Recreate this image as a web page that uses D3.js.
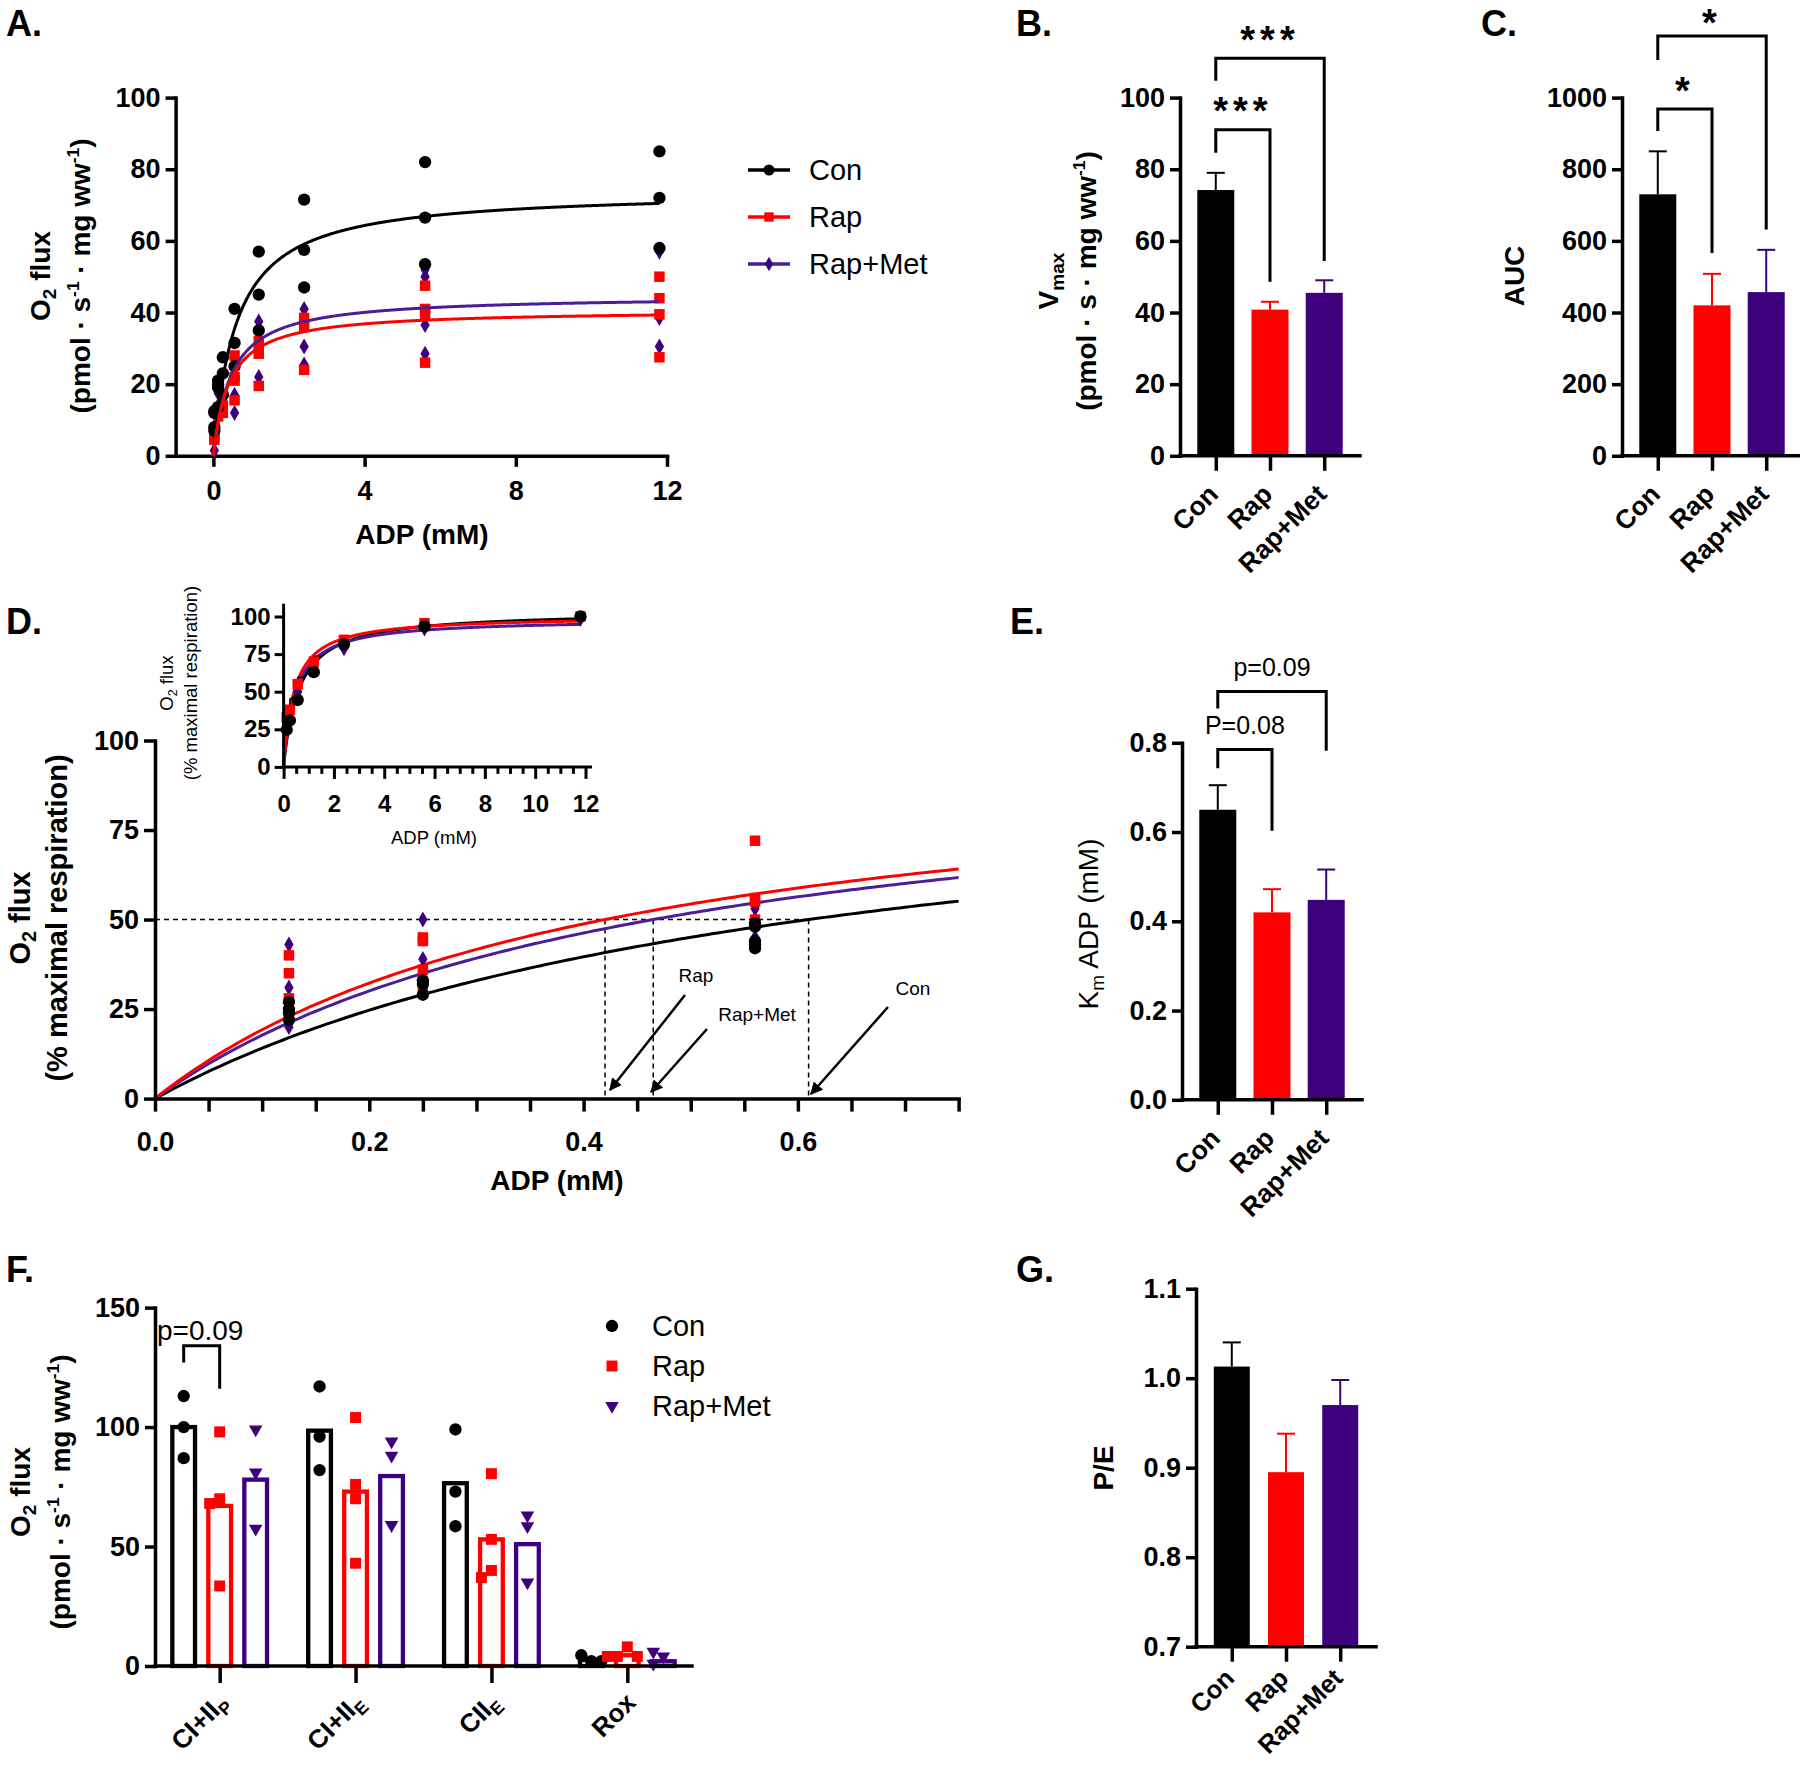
<!DOCTYPE html>
<html><head><meta charset="utf-8">
<script src="https://cdn.jsdelivr.net/npm/d3@7"></script>
<style>body{margin:0;background:#fff} svg{display:block}</style>
</head><body><svg id="c" width="1800" height="1766"></svg>
<script>
// ---------------- DATA ----------------
const groups = ["Con", "Rap", "Rap+Met"];
// Panel A: ADP titration, individual O2 flux values
const adpA = [0.025, 0.125, 0.25, 0.56, 1.2, 2.4, 5.6, 11.8];
const conA = [[12,12.5,7,8],[20,19,13.5,21],[27.5,23,17],[41,31.5,25],[57,45,35],[71.5,57.5,47],[82,66.5,53.5],[85,72,58]];
const rapA = [[5,4.5],[11,13],[12,14],[28,22,15.5,21],[32,30,28.5,19.5],[38.5,36,24],[47.5,41,39.5,26],[50,44,39.5,27.5]];
const rmA  = [[1.5,13],[17.5,14],[17,15],[26,17,12],[37.5,33,22],[41,30.5,25.5],[52,50,36.5,28.5],[57,38.5,30.5]];
const fitVmaxA = [74.1, 40.7, 44.7];
const fitKm = [0.61, 0.42, 0.465];
// Panel B
const vmaxMean = [74.2, 40.8, 45.5];
const vmaxErr = [4.8, 2.2, 3.5];
// Panel C
const aucMean = [730, 420, 457];
const aucErr = [120, 88, 118];
// Panel D main (normalized)
const adpD = [0.125, 0.25, 0.56];
const conD = [[22,24,25,27],[29,32,33],[42,43,44,48,49]];
const rapD = [[23,28,35,40],[30,36,44,45],[50,55,56,72]];
const rmD  = [[20,22,31,43],[35,39,50],[45,50,53]];
// Panel D inset (means)
const adpIn = [0.125, 0.25, 0.56, 1.2, 2.4, 5.6, 11.8];
const conIn = [24.7, 31, 44.5, 63, 81.5, 93.5, 100];
const rapIn = [33, 38, 55, 70, 84.5, 95.5, 100];
const rmIn  = [30, 36, 50, 66, 79, 92, 98.5];
const rapInErr = [0, 7.5, 4.6, 3.5, 0, 0, 0];
const fitVmaxIn = [103.6, 100.4, 98.5];
// Panel E
const kmMean = [0.65, 0.42, 0.448];
const kmErr = [0.055, 0.052, 0.068];
// Panel F
const fCats = ["CI+II", "CI+II", "CII", "Rox"];
const fSubs = ["P", "E", "E", ""];
const fConMean = [100, 98.5, 76.5, 2.5];
const fRapMean = [67, 73, 53, 4.5];
const fRmMean  = [78, 79.5, 51, 2];
const fConPts = [[113,100,87],[117,96,82],[99,73,58.5],[2,4.5,2]];
const fRapPts = [[98,70,68,33.5],[104,76,70,43],[80.5,53,40,37],[8,4,4,4]];
const fRmPts  = [[99,81,57.5],[94,88,59],[63,58.5,35],[4,1,6]];
// Panel G
const peMean = [1.013, 0.895, 0.97];
const peErr = [0.027, 0.043, 0.028];

// ---------------- STYLE ----------------
const FONT = '"Liberation Sans", Arial, Helvetica, sans-serif';
const NARROW = '"Liberation Sans Narrow", "Arial Narrow", "Liberation Sans", Arial, sans-serif';
const barCol = ["#000000", "#ff0000", "#3f007d"];
const lineCol = ["#000000", "#ff0000", "#4a1e97"];
const AX = 3.5;

const svg = d3.select("#c");
svg.append("rect").attr("width", 1800).attr("height", 1766).attr("fill", "#fff");
const defs = svg.append("defs");
defs.append("marker").attr("id", "arr").attr("viewBox", "0 0 10 10").attr("refX", 9).attr("refY", 5)
  .attr("markerWidth", 5).attr("markerHeight", 5).attr("orient", "auto-start-reverse").attr("markerUnits", "strokeWidth")
  .append("path").attr("d", "M0,0 L10,5 L0,10 z").attr("fill", "#000");

function styleAxis(g, fs, sw, weight) {
  g.attr("font-family", FONT);
  g.select(".domain").attr("stroke", "#000").attr("stroke-width", sw).attr("stroke-linecap", "square");
  g.selectAll(".tick line").attr("stroke", "#000").attr("stroke-width", sw);
  g.selectAll(".tick text").attr("fill", "#000").attr("font-size", fs).attr("font-weight", weight || "bold").attr("font-family", FONT);
}
function rich(t, parts, fs) {
  parts.forEach(p => {
    const s = t.append("tspan").text(p[0]);
    if (p[1] === "sub") s.attr("font-size", fs * 0.68).attr("baseline-shift", -fs * 0.22);
    if (p[1] === "sup") s.attr("font-size", fs * 0.62).attr("baseline-shift", fs * 0.38);
  });
  return t;
}
function vTitle(x, y, parts, fs, weight) {
  const t = svg.append("text").attr("transform", `translate(${x},${y}) rotate(-90)`)
    .attr("text-anchor", "middle").attr("font-family", FONT).attr("font-size", fs).attr("font-weight", weight || "bold");
  return rich(t, parts, fs);
}
function label(x, y, s) {
  svg.append("text").attr("x", x).attr("y", y).attr("font-family", FONT).attr("font-size", 36).attr("font-weight", "bold").text(s);
}
function sym(type, size) { return d3.symbol().type(type).size(size)(); }
const shapes = [d3.symbolCircle, d3.symbolSquare, d3.symbolDiamond];
const shapeSize = [120, 110, 75];

// ---------------- PANEL A ----------------
label(6, 36, "A.");
{
  const x = d3.scaleLinear().domain([-1, 12]).range([175.6, 667]);
  const y = d3.scaleLinear().domain([0, 100]).range([455.8, 97.6]);
  const g = svg.append("g");
  const ax = g.append("g").attr("transform", `translate(0,${y(0)})`)
    .call(d3.axisBottom(x).tickValues([0, 4, 8, 12]).tickSize(11).tickSizeOuter(0).tickPadding(14));
  styleAxis(ax, 27, AX);
  const ay = g.append("g").attr("transform", `translate(${x(-1)},0)`)
    .call(d3.axisLeft(y).tickValues(d3.range(0, 101, 20)).tickSize(10).tickSizeOuter(0).tickPadding(5));
  styleAxis(ay, 27, AX);
  const sets = [rmA, rapA, conA];
  const idx = [2, 1, 0];
  sets.forEach((set, k) => {
    const i = idx[k];
    set.forEach((vals, j) => vals.forEach(v => {
      g.append("path").attr("d", sym(shapes[i], shapeSize[i])).attr("fill", barCol[i])
        .attr("transform", `translate(${x(adpA[j])},${y(v)})`);
    }));
  });
  const xs = d3.range(0, 11.81, 0.02);
  [0, 2, 1].forEach(i => {
    g.append("path").datum(xs).attr("fill", "none").attr("stroke", lineCol[i]).attr("stroke-width", 3)
      .attr("d", d3.line().x(d => x(d)).y(d => y(fitVmaxA[i] * d / (fitKm[i] + d))));
  });
  svg.append("text").attr("x", 422).attr("y", 544).attr("text-anchor", "middle").attr("font-family", FONT)
    .attr("font-size", 28).attr("font-weight", "bold").text("ADP (mM)");
  vTitle(50, 276, [["O"], ["2", "sub"], [" flux"]], 28);
  vTitle(90, 276, [["(pmol · s"], ["-1", "sup"], [" · mg ww"], ["-1", "sup"], [")"]], 28);
  // legend
  groups.forEach((gname, i) => {
    const ly = 170 + i * 47;
    g.append("line").attr("x1", 748).attr("x2", 790).attr("y1", ly).attr("y2", ly).attr("stroke", lineCol[i]).attr("stroke-width", 3.5);
    g.append("path").attr("d", sym(shapes[i], shapeSize[i] * 0.8)).attr("fill", barCol[i]).attr("transform", `translate(769,${ly})`);
    g.append("text").attr("x", 809).attr("y", ly + 10).attr("font-family", FONT).attr("font-size", 29).text(gname);
  });
}

// ---------------- BAR PANELS ----------------
function barPanel(o) {
  const y = d3.scaleLinear().domain(o.domain).range([o.y0, o.y1]);
  const x = d3.scalePoint().domain(groups).range([o.ax, o.ax + 180]).padding(0.66);
  const g = svg.append("g");
  groups.forEach((gn, i) => {
    const cx = x(gn);
    const top = y(o.mean[i]);
    const et = y(o.mean[i] + o.err[i]);
    g.append("line").attr("x1", cx).attr("x2", cx).attr("y1", top).attr("y2", et).attr("stroke", barCol[i]).attr("stroke-width", 2);
    g.append("line").attr("x1", cx - 9).attr("x2", cx + 9).attr("y1", et).attr("y2", et).attr("stroke", barCol[i]).attr("stroke-width", 2);
    g.append("rect").attr("x", cx - o.bw / 2).attr("width", o.bw).attr("y", top).attr("height", y(o.domain[0]) - top).attr("fill", barCol[i]);
  });
  const axb = g.append("g").attr("transform", `translate(0,${o.y0})`)
    .call(d3.axisBottom(x).tickSize(15).tickSizeOuter(0).tickFormat(""));
  styleAxis(axb, 27, AX);
  axb.select(".domain").attr("d", `M${o.ax},0H${o.ax + 180}`);
  const ayg = g.append("g").attr("transform", `translate(${o.ax},0)`)
    .call(d3.axisLeft(y).tickValues(o.ticks).tickFormat(o.fmt).tickSize(10).tickSizeOuter(0).tickPadding(5));
  styleAxis(ayg, 27, AX);
  const lfs = o.lfs || 26.5, ldy = o.ldy || 40;
  groups.forEach(gn => {
    const cx = x(gn);
    g.append("text").attr("transform", `translate(${cx + 4},${o.y0 + ldy}) rotate(-45)`)
      .attr("text-anchor", "end").attr("font-family", FONT).attr("font-size", lfs).attr("font-weight", "bold").text(gn);
  });
  (o.brackets || []).forEach(b => {
    const xa = x(groups[b.a]), xb = x(groups[b.b]);
    g.append("path").attr("d", `M${xa},${y(b.l)}V${y(b.h)}H${xb}V${y(b.r)}`).attr("fill", "none").attr("stroke", "#000").attr("stroke-width", 3);
    const t = g.append("text").attr("x", (xa + xb) / 2).attr("text-anchor", "middle").attr("font-family", FONT).text(b.text);
    if (b.star) t.attr("font-size", 38).attr("font-weight", "bold").attr("letter-spacing", 5).attr("y", Math.max(y(b.t) + 19, 36));
    else t.attr("font-size", 25).attr("y", y(b.t) + 9);
  });
  return { x, y };
}

label(1016, 36, "B.");
barPanel({ ax: 1180, y0: 455.8, y1: 97.6, domain: [0, 100], ticks: d3.range(0, 101, 20), fmt: d3.format("d"),
  mean: vmaxMean, err: vmaxErr, bw: 37,
  brackets: [{ a: 0, b: 1, h: 91, l: 84.6, r: 48.6, text: "***", t: 97.8, star: true },
             { a: 0, b: 2, h: 111, l: 104.7, r: 54.4, text: "***", t: 117.8, star: true }] });
vTitle(1058, 281, [["V"], ["max", "sub"]], 28);
vTitle(1096, 281, [["(pmol · s · mg ww"], ["-1", "sup"], [")"]], 28);

label(1481, 36, "C.");
barPanel({ ax: 1622, y0: 455.8, y1: 97.6, domain: [0, 1000], ticks: d3.range(0, 1001, 200), fmt: d3.format("d"),
  mean: aucMean, err: aucErr, bw: 37,
  brackets: [{ a: 0, b: 1, h: 968, l: 907, r: 566, text: "*", t: 1035, star: true },
             { a: 0, b: 2, h: 1172, l: 1105, r: 632, text: "*", t: 1238, star: true }] });
vTitle(1524, 276, [["AUC"]], 28);

label(1010, 634, "E.");
barPanel({ ax: 1182, y0: 1099.8, y1: 742.8, domain: [0, 0.8], ticks: [0, 0.2, 0.4, 0.6, 0.8], fmt: d3.format(".1f"),
  mean: kmMean, err: kmErr, bw: 37,
  brackets: [{ a: 0, b: 1, h: 0.785, l: 0.743, r: 0.603, text: "P=0.08", t: 0.84 },
             { a: 0, b: 2, h: 0.915, l: 0.877, r: 0.782, text: "p=0.09", t: 0.97 }] });
vTitle(1098, 924, [["K"], ["m", "sub"], [" ADP (mM)"]], 28, "normal");

label(1016, 1282, "G.");
barPanel({ ax: 1196, y0: 1646.7, y1: 1288.7, domain: [0.7, 1.1], ticks: [0.7, 0.8, 0.9, 1.0, 1.1], fmt: d3.format(".1f"),
  mean: peMean, err: peErr, bw: 36, lfs: 25.5, ldy: 33 });
vTitle(1113, 1468, [["P/E"]], 28);

// ---------------- PANEL D ----------------
label(6, 634, "D.");
{
  const x = d3.scaleLinear().domain([0, 0.75]).range([155, 958.6]);
  const y = d3.scaleLinear().domain([0, 100]).range([1098.6, 740.5]);
  const g = svg.append("g");
  // dashed guides
  g.append("line").attr("x1", x(0)).attr("x2", x(fitKm[0])).attr("y1", y(50)).attr("y2", y(50))
    .attr("stroke", "#000").attr("stroke-width", 1.5).attr("stroke-dasharray", "5,4");
  fitKm.forEach(k => g.append("line").attr("x1", x(k)).attr("x2", x(k)).attr("y1", y(50)).attr("y2", y(0))
    .attr("stroke", "#000").attr("stroke-width", 1.5).attr("stroke-dasharray", "5,4"));
  const xs = d3.range(0, 0.7501, 0.005);
  [0, 2, 1].forEach(i => g.append("path").datum(xs).attr("fill", "none").attr("stroke", lineCol[i]).attr("stroke-width", 3)
    .attr("d", d3.line().x(d => x(d)).y(d => y(100 * d / (fitKm[i] + d)))));
  [[rmD, 2], [rapD, 1], [conD, 0]].forEach(([set, i]) => set.forEach((vals, j) => vals.forEach(v =>
    g.append("path").attr("d", sym(shapes[i], shapeSize[i])).attr("fill", barCol[i]).attr("transform", `translate(${x(adpD[j])},${y(v)})`))));
  const ax = g.append("g").attr("transform", `translate(0,${y(0)})`)
    .call(d3.axisBottom(x).tickValues(d3.range(0, 0.7501, 0.05)).tickSize(13).tickSizeOuter(0).tickPadding(20)
      .tickFormat(d => (Math.abs(d * 10 - Math.round(d * 10)) < 1e-6 && Math.round(d * 10) % 2 === 0) ? d3.format(".1f")(d) : ""));
  styleAxis(ax, 27, AX);
  const ay = g.append("g").attr("transform", `translate(${x(0)},0)`)
    .call(d3.axisLeft(y).tickValues([0, 25, 50, 75, 100]).tickSize(11).tickSizeOuter(0).tickPadding(5));
  styleAxis(ay, 27, AX);
  svg.append("text").attr("x", 557).attr("y", 1190).attr("text-anchor", "middle").attr("font-family", FONT)
    .attr("font-size", 28).attr("font-weight", "bold").text("ADP (mM)");
  vTitle(30, 918, [["O"], ["2", "sub"], [" flux"]], 29);
  vTitle(67, 918, [["(% maximal respiration)"]], 29);
  // arrows + labels
  const arrows = [[685, 995, 610, 1090], [707, 1029, 651, 1092], [888, 1007, 811, 1094]];
  arrows.forEach(a => g.append("line").attr("x1", a[0]).attr("y1", a[1]).attr("x2", a[2]).attr("y2", a[3])
    .attr("stroke", "#000").attr("stroke-width", 2.5).attr("marker-end", "url(#arr)"));
  [["Rap", 696, 982], ["Rap+Met", 757, 1021], ["Con", 913, 995]].forEach(t =>
    g.append("text").attr("x", t[1]).attr("y", t[2]).attr("text-anchor", "middle").attr("font-family", NARROW)
      .attr("font-size", 19).text(t[0]));

  // inset
  const xi = d3.scaleLinear().domain([0, 12]).range([283.6, 585.5]);
  const yi = d3.scaleLinear().domain([0, 100]).range([766.9, 616.5]);
  const gi = svg.append("g");
  const xsi = d3.range(0, 11.81, 0.02);
  [0, 2, 1].forEach(i => gi.append("path").datum(xsi).attr("fill", "none").attr("stroke", lineCol[i]).attr("stroke-width", 3)
    .attr("d", d3.line().x(d => xi(d)).y(d => yi(fitVmaxIn[i] * d / (fitKm[i] + d)))));
  adpIn.forEach((a, j) => {
    if (rapInErr[j] > 0) {
      const t = yi(rapIn[j] + rapInErr[j]);
      gi.append("line").attr("x1", xi(a)).attr("x2", xi(a)).attr("y1", yi(rapIn[j])).attr("y2", t).attr("stroke", "#000").attr("stroke-width", 1.5);
      gi.append("line").attr("x1", xi(a)).attr("x2", xi(a) + 8).attr("y1", t).attr("y2", t).attr("stroke", "#000").attr("stroke-width", 1.5);
    }
  });
  [[rmIn, 2], [rapIn, 1], [conIn, 0]].forEach(([set, i]) => set.forEach((v, j) =>
    gi.append("path").attr("d", sym(shapes[i], shapeSize[i])).attr("fill", barCol[i]).attr("transform", `translate(${xi(adpIn[j])},${yi(v)})`)));
  const axi = gi.append("g").attr("transform", `translate(0,${yi(0)})`)
    .call(d3.axisBottom(xi).tickValues(d3.range(0, 12.01, 0.5)).tickSize(7).tickSizeOuter(0).tickPadding(21)
      .tickFormat(d => d % 2 === 0 ? d : ""));
  styleAxis(axi, 24, 3);
  axi.selectAll(".tick line").attr("y2", d => d % 2 === 0 ? 12 : 7);
  axi.select(".domain").attr("d", "M" + xi(0) + ",0H" + (xi(12) + 5));
  const ayi = gi.append("g").attr("transform", `translate(${xi(0)},0)`)
    .call(d3.axisLeft(yi).tickValues([0, 25, 50, 75, 100]).tickSize(9).tickSizeOuter(0).tickPadding(4));
  styleAxis(ayi, 24, 3);
  ayi.select(".domain").attr("d", "M0," + yi(0) + "V" + yi(107.5));
  svg.append("text").attr("x", 434).attr("y", 844).attr("text-anchor", "middle").attr("font-family", FONT)
    .attr("font-size", 18.5).text("ADP (mM)");
  vTitle(173, 683, [["O"], ["2", "sub"], [" flux"]], 18.5, "normal");
  vTitle(197, 683, [["(% maximal respiration)"]], 18.5, "normal");
}

// ---------------- PANEL F ----------------
label(6, 1282, "F.");
{
  const y = d3.scaleLinear().domain([0, 150]).range([1666, 1307.6]);
  const cats = fCats.map((c, i) => i);
  const x = d3.scalePoint().domain(cats).range([155, 692]).padding(0.476);
  const inner = [-36, 0, 36];
  const means = [fConMean, fRapMean, fRmMean];
  const pts = [fConPts, fRapPts, fRmPts];
  const fShapes = [d3.symbolCircle, d3.symbolSquare, d3.symbolTriangle];
  const fSize = [120, 120, 80];
  const g = svg.append("g");
  const bw = 27, sw = 4.3;
  cats.forEach(ci => {
    [0, 1, 2].forEach(gi => {
      const cx = x(ci) + inner[gi];
      const top = y(means[gi][ci]);
      g.append("rect").attr("x", cx - bw / 2 + sw / 2).attr("width", bw - sw).attr("y", top).attr("height", y(0) - top)
        .attr("fill", "none").attr("stroke", barCol[gi]).attr("stroke-width", sw);
    });
  });
  cats.forEach(ci => {
    [0, 1, 2].forEach(gi => {
      const cx = x(ci) + inner[gi];
      const placed = [];
      pts[gi][ci].forEach(v => {
        const py = y(v);
        const near = placed.filter(p => Math.abs(p - py) < 10).length;
        const off = near ? (near % 2 ? -1 : 1) * Math.ceil(near / 2) * 10 : 0;
        placed.push(py);
        const rot = gi === 2 ? " rotate(180)" : "";
        g.append("path").attr("d", sym(fShapes[gi], fSize[gi])).attr("fill", barCol[gi])
          .attr("transform", `translate(${cx + off},${py})${rot}`);
      });
    });
  });
  const axb = g.append("g").attr("transform", `translate(0,${y(0)})`)
    .call(d3.axisBottom(x).tickSize(17).tickSizeOuter(0).tickFormat(""));
  styleAxis(axb, 27, AX);
  axb.select(".domain").attr("d", "M155,0H692");
  const ayg = g.append("g").attr("transform", "translate(155,0)")
    .call(d3.axisLeft(y).tickValues([0, 50, 100, 150]).tickSize(10).tickSizeOuter(0).tickPadding(5));
  styleAxis(ayg, 27, AX);
  cats.forEach(ci => {
    const t = g.append("text").attr("transform", `translate(${x(ci) + 10},${y(0) + 38}) rotate(-45)`)
      .attr("text-anchor", "end").attr("font-family", FONT).attr("font-size", 26).attr("font-weight", "bold");
    rich(t, fSubs[ci] ? [[fCats[ci]], [fSubs[ci], "sub"]] : [[fCats[ci]]], 26);
  });
  // bracket
  const xa = x(0) + inner[0], xb = x(0) + inner[1];
  g.append("path").attr("d", `M${xa},${y(127)}V${y(134)}H${xb}V${y(116)}`).attr("fill", "none").attr("stroke", "#000").attr("stroke-width", 3);
  g.append("text").attr("x", 157).attr("y", y(140.5) + 10).attr("font-family", FONT).attr("font-size", 28).text("p=0.09");
  // legend
  groups.forEach((gn, i) => {
    const ly = 1326 + i * 40;
    const rot = i === 2 ? " rotate(180)" : "";
    g.append("path").attr("d", sym(fShapes[i], fSize[i])).attr("fill", barCol[i]).attr("transform", `translate(612,${ly})${rot}`);
    g.append("text").attr("x", 652).attr("y", ly + 10).attr("font-family", FONT).attr("font-size", 29).text(gn);
  });
  vTitle(30, 1492, [["O"], ["2", "sub"], [" flux"]], 28);
  vTitle(70, 1492, [["(pmol · s"], ["-1", "sup"], [" · mg ww"], ["-1", "sup"], [")"]], 28);
}
</script></body></html>
